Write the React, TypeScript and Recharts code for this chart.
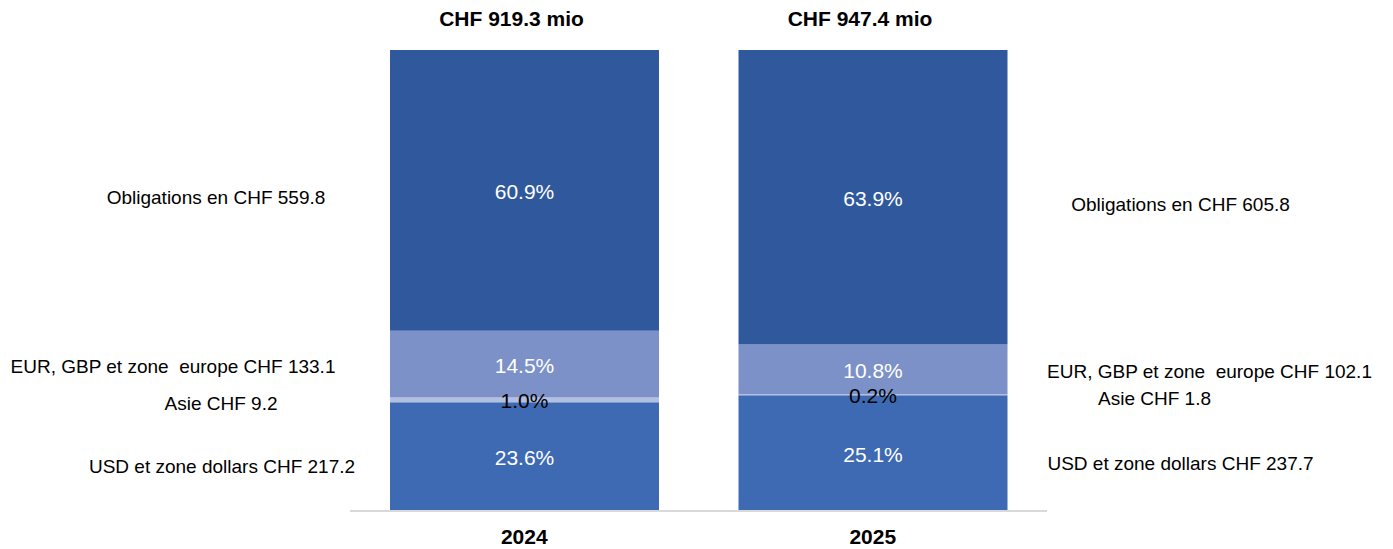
import { BarChart, Bar, XAxis, YAxis, LabelList } from 'recharts';

const years = ['2024', '2025'];
const totals = ['CHF 919.3 mio', 'CHF 947.4 mio'];

const usdShare = [23.6, 25.1];
const usdAmount = [217.2, 237.7];
const asieShare = [1.0, 0.2];
const asieAmount = [9.2, 1.8];
const eurShare = [14.5, 10.8];
const eurAmount = [133.1, 102.1];
const obligShare = [60.9, 63.9];
const obligAmount = [559.8, 605.8];

const seriesNames = {
  usd: 'USD et zone dollars CHF',
  asie: 'Asie CHF',
  eur: 'EUR, GBP et zone  europe CHF',
  oblig: 'Obligations en CHF',
};

const FONT = '"Liberation Sans", Arial, sans-serif';

const chartData = years.map((year, i) => ({
  year,
  total: totals[i],
  usd: usdShare[i],
  asie: asieShare[i],
  eur: eurShare[i],
  oblig: obligShare[i],
  usdAmt: usdAmount[i],
  asieAmt: asieAmount[i],
  eurAmt: eurAmount[i],
  obligAmt: obligAmount[i],
}));

// label nudges per series: left side (2024) / right side (2025)
const sideLayout: Record<string, { left: number; right: number; dy: number }> = {
  usd: { left: -168, right: 173, dy: 10 },
  asie: { left: -169, right: 147, dy: 4 },
  eur: { left: -217, right: 202, dy: 2 },
  oblig: { left: -174, right: 173, dy: 7 },
};

function makeSideLabel(key: 'usd' | 'asie' | 'eur' | 'oblig') {
  return (props: any) => {
    const { x, y, width, height, index } = props;
    const amt = chartData[index][`${key}Amt` as 'usdAmt'] as number;
    const lay = sideLayout[key];
    const cx = index === 0 ? x + lay.left : x + width + lay.right;
    return (
      <text
        x={cx}
        y={y + height / 2 + lay.dy}
        textAnchor="middle"
        dominantBaseline="central"
        fontSize={19}
        fontFamily={FONT}
        fill="#000"
        style={{ whiteSpace: 'pre' }}
      >
        {`${seriesNames[key]} ${amt.toFixed(1)}`}
      </text>
    );
  };
}

function makePctLabel(color: string) {
  return (props: any) => {
    const { x, y, width, height, value } = props;
    return (
      <text
        x={x + width / 2}
        y={y + height / 2 + 1}
        textAnchor="middle"
        dominantBaseline="central"
        fontSize={21}
        fontFamily={FONT}
        fill={color}
      >
        {`${Number(value).toFixed(1)}%`}
      </text>
    );
  };
}

function TotalLabel(props: any) {
  const { x, y, width, index } = props;
  return (
    <text
      x={x + width / 2 - 13}
      y={y - 32}
      textAnchor="middle"
      dominantBaseline="central"
      fontSize={21}
      fontWeight="bold"
      fontFamily={FONT}
      fill="#000"
    >
      {chartData[index].total}
    </text>
  );
}

function YearTick(props: any) {
  const { x, y, payload } = props;
  return (
    <text
      x={x}
      y={y + 17}
      textAnchor="middle"
      dominantBaseline="central"
      fontSize={21}
      fontWeight="bold"
      fontFamily={FONT}
      fill="#000"
    >
      {payload.value}
    </text>
  );
}

export default function App() {
  return (
    <div style={{ position: 'absolute', left: 0, top: 0, width: 1393, height: 549, background: '#fff' }}>
      <BarChart
        width={1393}
        height={549}
        data={chartData}
        margin={{ top: 50, right: 346, left: 350, bottom: 0 }}
        barSize={269}
      >
        <XAxis
          dataKey="year"
          tickLine={false}
          axisLine={{ stroke: '#d9d9d9', strokeWidth: 2 }}
          tick={<YearTick />}
          height={38}
        />
        <YAxis hide domain={[0, 100]} />
        <Bar dataKey="usd" stackId="a" fill="#3e6ab3" isAnimationActive={false}>
          <LabelList dataKey="usd" content={makePctLabel('#ffffff')} />
          <LabelList dataKey="usd" content={makeSideLabel('usd')} />
        </Bar>
        <Bar dataKey="asie" stackId="a" fill="#b3bfe0" isAnimationActive={false}>
          <LabelList dataKey="asie" content={makePctLabel('#000000')} />
          <LabelList dataKey="asie" content={makeSideLabel('asie')} />
        </Bar>
        <Bar dataKey="eur" stackId="a" fill="#7b91c8" isAnimationActive={false}>
          <LabelList dataKey="eur" content={makePctLabel('#ffffff')} />
          <LabelList dataKey="eur" content={makeSideLabel('eur')} />
        </Bar>
        <Bar dataKey="oblig" stackId="a" fill="#30599d" isAnimationActive={false}>
          <LabelList dataKey="oblig" content={makePctLabel('#ffffff')} />
          <LabelList dataKey="oblig" content={makeSideLabel('oblig')} />
          <LabelList dataKey="total" content={<TotalLabel />} />
        </Bar>
      </BarChart>
    </div>
  );
}
